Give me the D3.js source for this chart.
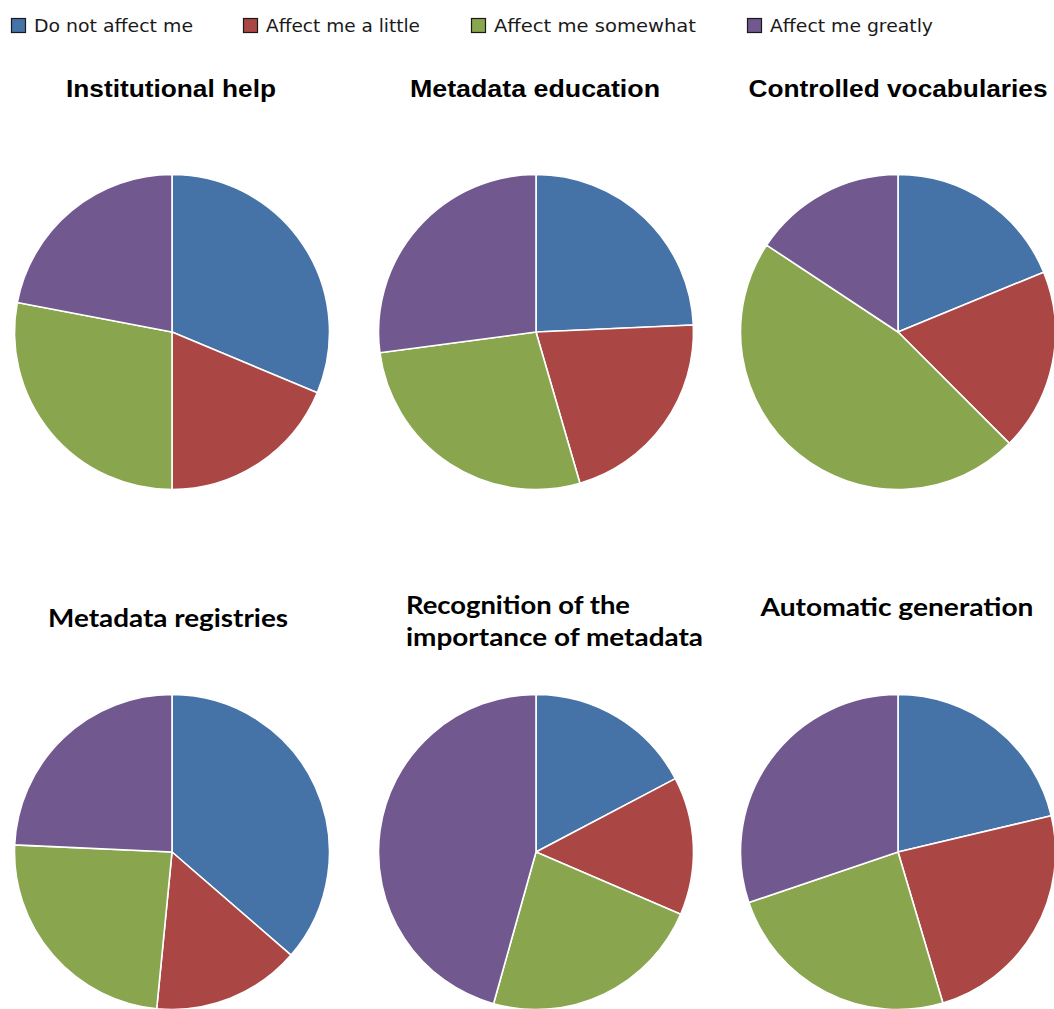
<!DOCTYPE html>
<html>
<head>
<meta charset="utf-8">
<script src="https://cdn.jsdelivr.net/npm/d3@7"></script>
<style>
  html, body { margin: 0; padding: 0; background: #ffffff; }
  svg { display: block; }
</style>
</head>
<body>
<svg id="chart" width="1054" height="1009"></svg>
<script>
// Response categories (legend order = slice order, clockwise from 12 o'clock)
const categories = ["Do not affect me", "Affect me a little", "Affect me somewhat", "Affect me greatly"];

// Share of respondents (%) per topic, in category order
const institutionalHelp   = [31.3, 18.7, 28.0, 22.0];
const metadataEducation   = [24.3, 21.2, 27.4, 27.1];
const controlledVocab     = [18.8, 18.7, 46.8, 15.7];
const metadataRegistries  = [36.4, 15.2, 24.2, 24.3];
const recognition         = [17.3, 14.2, 22.9, 45.7];
const automaticGeneration = [21.3, 24.1, 24.4, 30.2];

// Panel titles (multi-line titles split into lines)
const titles = [
  ["Institutional help"],
  ["Metadata education"],
  ["Controlled vocabularies"],
  ["Metadata registries"],
  ["Recognition of the", "importance of metadata"],
  ["Automatic generation"]
];
const seriesList = [institutionalHelp, metadataEducation, controlledVocab,
                    metadataRegistries, recognition, automaticGeneration];

const colors = ["#4572A7", "#AA4643", "#89A54E", "#71588F"];
const color = d3.scaleOrdinal().domain(categories).range(colors);

const svg = d3.select("#chart");

// ---- Legend ----
const legendX = [11, 243, 471, 747];
const legendTextW = [159, 154, 202, 163];
const legend = svg.append("g").attr("class", "legend");
categories.forEach((c, i) => {
  const g = legend.append("g").attr("transform", `translate(${legendX[i]},18)`);
  g.append("rect")
    .attr("x", 0.5).attr("y", 0.5)
    .attr("width", 14).attr("height", 14)
    .attr("fill", color(c))
    .attr("stroke", "#1a1a1a").attr("stroke-width", 1.2);
  g.append("text")
    .attr("x", 23).attr("y", 14)
    .attr("font-family", "'DejaVu Sans', sans-serif")
    .attr("font-size", 17)
    .attr("fill", "#1a1a1a")
    .attr("textLength", legendTextW[i])
    .attr("lengthAdjust", "spacingAndGlyphs")
    .text(c);
});

// ---- Pie grid ----
const colX = [172, 536, 898];
const rowY = [332, 852];
const radius = 157.5;

const pie = d3.pie().sort(null).value(d => d.value);
const arc = d3.arc().innerRadius(0).outerRadius(radius);

// Title placement per panel: anchor x, baseline(s), width(s), font
const titleSpec = [
  { x: 171, anchor: "middle", ys: [97],       ws: [210], font: "'Liberation Sans', Arial, sans-serif", size: 24 },
  { x: 535, anchor: "middle", ys: [97],       ws: [250], font: "'Liberation Sans', Arial, sans-serif", size: 24 },
  { x: 898, anchor: "middle", ys: [97],       ws: [299], font: "'Liberation Sans', Arial, sans-serif", size: 24 },
  { x: 168, anchor: "middle", ys: [627],      ws: [240], font: "Lato, 'Open Sans', sans-serif", size: 24 },
  { x: 406, anchor: "start",  ys: [614, 646], ws: [224, 297], font: "Lato, 'Open Sans', sans-serif", size: 24 },
  { x: 897, anchor: "middle", ys: [616],      ws: [273], font: "Lato, 'Open Sans', sans-serif", size: 24 }
];

seriesList.forEach((vals, k) => {
  const cx = colX[k % 3], cy = rowY[Math.floor(k / 3)];
  const data = categories.map((c, i) => ({ category: c, value: vals[i] }));

  const g = svg.append("g").attr("transform", `translate(${cx},${cy})`);
  g.selectAll("path")
    .data(pie(data))
    .join("path")
    .attr("d", arc)
    .attr("fill", d => color(d.data.category))
    .attr("stroke", "#ffffff")
    .attr("stroke-width", 1.6)
    .attr("stroke-linejoin", "round");

  const spec = titleSpec[k];
  titles[k].forEach((line, j) => {
    svg.append("text")
      .attr("x", spec.x).attr("y", spec.ys[j])
      .attr("text-anchor", spec.anchor)
      .attr("font-family", spec.font)
      .attr("font-weight", "bold")
      .attr("font-size", spec.size)
      .attr("fill", "#000000")
      .attr("textLength", spec.ws[j])
      .attr("lengthAdjust", "spacingAndGlyphs")
      .text(line);
  });
});
</script>
</body>
</html>
